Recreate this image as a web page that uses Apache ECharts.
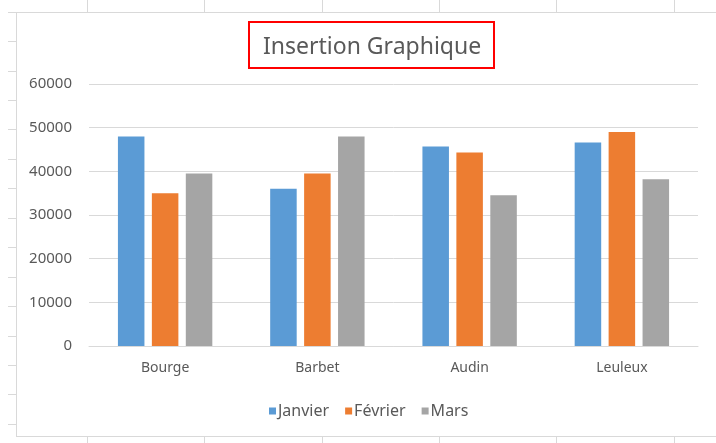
<!DOCTYPE html>
<html>
<head>
<meta charset="utf-8">
<script src="https://cdn.jsdelivr.net/npm/echarts@6/dist/echarts.min.js"></script>
<style>
html,body{margin:0;padding:0;background:#fff;}
#c{width:716px;height:443px;}
</style>
</head>
<body>
<div id="c"></div>
<script>
const categories = ['Bourge', 'Barbet', 'Audin', 'Leuleux'];
const janvier = [48000, 36000, 45700, 46600];
const fevrier = [35000, 39500, 44300, 49000];
const mars = [39500, 48000, 34500, 38200];
const yTicks = [0, 10000, 20000, 30000, 40000, 50000, 60000];
const seriesNames = ['Janvier', 'Février', 'Mars'];
const colors = ['#5B9BD5', '#ED7D31', '#A5A5A5'];

const FONT = 'Noto Sans';
const chart = echarts.init(document.getElementById('c'), null, {renderer: 'canvas'});

// spreadsheet decorations
const deco = [];
const sheetGray = '#D9D9D9';
const colX = [87, 204, 322, 439, 556, 674];
const rowY = [41, 71, 100, 129, 159, 188, 218, 247, 277, 306, 336, 365, 394, 424];
colX.forEach(x => {
  deco.push({type:'line', shape:{x1:x+0.5,y1:0,x2:x+0.5,y2:12}, style:{stroke:sheetGray,lineWidth:1}, silent:true});
  deco.push({type:'line', shape:{x1:x+0.5,y1:436,x2:x+0.5,y2:443}, style:{stroke:sheetGray,lineWidth:1}, silent:true});
});
rowY.forEach(y => {
  deco.push({type:'line', shape:{x1:8,y1:y+0.5,x2:16,y2:y+0.5}, style:{stroke:sheetGray,lineWidth:1}, silent:true});
});
deco.push({type:'line', shape:{x1:8,y1:12.5,x2:716,y2:12.5}, style:{stroke:sheetGray,lineWidth:1}, silent:true});
deco.push({type:'line', shape:{x1:16.5,y1:12,x2:16.5,y2:436}, style:{stroke:sheetGray,lineWidth:1}, silent:true});
deco.push({type:'line', shape:{x1:16,y1:436.5,x2:716,y2:436.5}, style:{stroke:sheetGray,lineWidth:1}, silent:true});

const data = [janvier, fevrier, mars];

chart.setOption({
  animation: false,
  backgroundColor: '#ffffff',
  color: colors,
  title: {
    text: 'Insertion Graphique',
    left: 249,
    top: 22,
    padding: [10, 13, 6, 14],
    borderColor: '#FF0000',
    borderWidth: 2,
    textStyle: {
      fontFamily: FONT,
      fontSize: 23,
      fontWeight: 'normal',
      color: '#595959',
      lineHeight: 30
    }
  },
  legend: {
    data: seriesNames,
    left: 264,
    top: 398,
    icon: 'rect',
    itemWidth: 7,
    itemHeight: 7,
    itemGap: 16,
    textStyle: {fontFamily: FONT, fontSize: 16, color: '#595959', padding: [0,0,0,-3]}
  },
  grid: {left: 89, right: 18, top: 84, bottom: 97, containLabel: false},
  xAxis: {
    type: 'category',
    data: categories,
    axisLine: {lineStyle: {color: '#D9D9D9', width: 1}},
    axisTick: {show: false},
    axisLabel: {fontFamily: FONT, fontSize: 14, color: '#595959', margin: 15}
  },
  yAxis: {
    type: 'value',
    min: yTicks[0],
    max: yTicks[yTicks.length - 1],
    interval: yTicks[1] - yTicks[0],
    axisLine: {show: false},
    axisTick: {show: false},
    splitLine: {lineStyle: {color: '#D9D9D9', width: 1}},
    axisLabel: {fontFamily: FONT, fontSize: 15, color: '#595959', margin: 17, formatter: v => String(v)}
  },
  series: seriesNames.map((n, i) => ({
    name: n,
    type: 'bar',
    data: data[i],
    barGap: '28%',
    barCategoryGap: '38%',
    itemStyle: {color: colors[i]}
  })),
  graphic: deco
});
</script>
</body>
</html>
